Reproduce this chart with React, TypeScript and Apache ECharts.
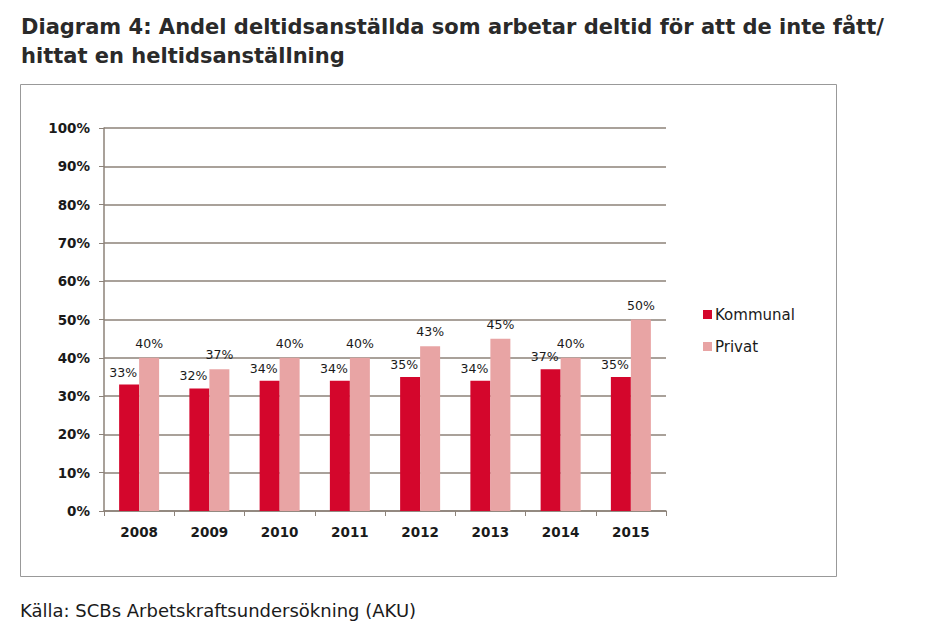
import React, { useEffect, useRef } from "react";
import * as echarts from "echarts";

const years = ["2008", "2009", "2010", "2011", "2012", "2013", "2014", "2015"];
const kommunal = [33, 32, 34, 34, 35, 34, 37, 35];
const privat = [40, 37, 40, 40, 43, 45, 40, 50];
const titleLines = [
  "Diagram 4: Andel deltidsanställda som arbetar deltid för att de inte fått/",
  "hittat en heltidsanställning",
];
const sourceText = "Källa: SCBs Arbetskraftsundersökning (AKU)";

const FONT = "'DejaVu Sans', sans-serif";

export default function App() {
  const ref = useRef<HTMLDivElement>(null);
  useEffect(() => {
    document.body.style.margin = "0";
    const chart = echarts.init(ref.current!, null, { renderer: "svg" });
    const labelStyle = {
      show: true,
      position: "top" as const,
      formatter: "{c}%",
      color: "#1a1a1a",
      fontSize: 12.5,
      fontFamily: FONT,
    };
    chart.setOption({
      animation: false,
      backgroundColor: "#fff",
      graphic: [
        {
          type: "text",
          left: 21,
          top: 12,
          style: {
            text: titleLines.join("\n"),
            font: `bold 21px ${FONT}`,
            lineHeight: 29,
            fill: "#2a2a2a",
          },
        },
        {
          type: "rect",
          shape: { x: 20.5, y: 84.5, width: 816, height: 492 },
          style: { fill: "none", stroke: "#999", lineWidth: 1 },
          z: -1,
        },
        {
          type: "text",
          left: 20,
          top: 601,
          style: { text: sourceText, font: `18px ${FONT}`, fill: "#1a1a1a" },
        },
      ],
      legend: {
        orient: "vertical",
        left: 698,
        top: 302,
        itemWidth: 9,
        itemHeight: 9,
        itemGap: 17,
        icon: "rect",
        textStyle: { fontSize: 15, fontFamily: FONT, color: "#1a1a1a", padding: [0, 0, 0, -2] },
        data: ["Kommunal", "Privat"],
      },
      grid: { left: 104, right: 262, top: 128, bottom: 124, containLabel: false },
      xAxis: {
        type: "category",
        data: years,
        axisLine: { lineStyle: { color: "#8c8279", width: 1.5 } },
        axisTick: { show: true, length: 5, lineStyle: { color: "#8c8279" } },
        axisLabel: { fontSize: 13.5, fontFamily: FONT, color: "#1a1a1a", margin: 14, fontWeight: "bold" },
      },
      yAxis: {
        type: "value",
        min: 0,
        max: 100,
        interval: 10,
        axisLine: { show: true, lineStyle: { color: "#8c8279", width: 1.5 } },
        axisTick: { show: true, length: 5, lineStyle: { color: "#8c8279" } },
        splitLine: { lineStyle: { color: "#8c8279", width: 1.5 } },
        axisLabel: { formatter: "{value}%", fontSize: 13.5, fontFamily: FONT, color: "#1a1a1a", margin: 14, fontWeight: "bold" },
      },
      series: [
        {
          name: "Kommunal",
          type: "bar",
          data: kommunal,
          barWidth: 20,
          barGap: "0%",
          itemStyle: { color: "#d4062c" },
          label: { ...labelStyle, distance: 6, offset: [-6, 0] },
        },
        {
          name: "Privat",
          type: "bar",
          data: privat,
          barWidth: 20,
          itemStyle: { color: "#e8a4a4" },
          label: { ...labelStyle, distance: 8 },
        },
      ],
    });
    return () => chart.dispose();
  }, []);
  return <div ref={ref} style={{ width: 928, height: 635, position: "fixed", left: 0, top: 0 }} />;
}
